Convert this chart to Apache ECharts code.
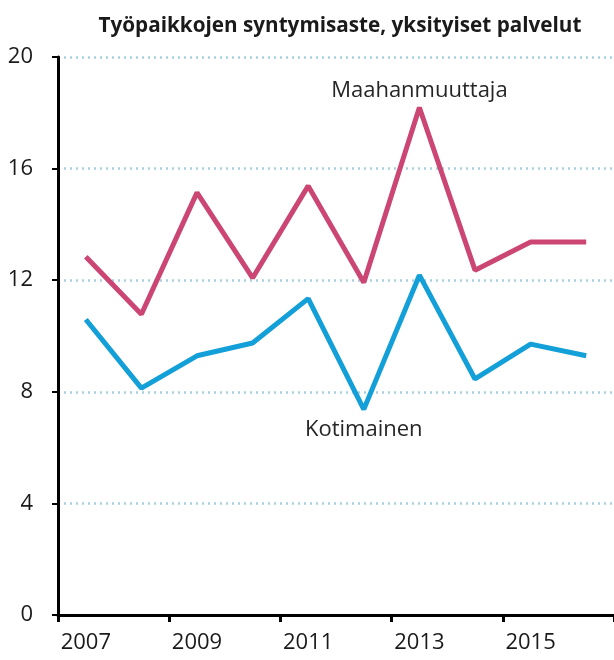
<!DOCTYPE html>
<html><head><meta charset="utf-8">
<script src="https://cdn.jsdelivr.net/npm/echarts@6/dist/echarts.min.js"></script>
<style>html,body{margin:0;padding:0;background:#fff}#c{width:614px;height:660px}</style>
</head><body><div id="c"></div>
<script>
const title = "Työpaikkojen syntymisaste, yksityiset palvelut";
const years = ["2007","2008","2009","2010","2011","2012","2013","2014","2015","2016"];
const maahanmuuttaja = [12.84, 10.78, 15.14, 12.08, 15.38, 11.92, 18.19, 12.36, 13.37, 13.37];
const kotimainen = [10.59, 8.13, 9.29, 9.75, 11.34, 7.37, 12.18, 8.46, 9.71, 9.29];
const yTicks = [0, 4, 8, 12, 16, 20];
const names = ["Maahanmuuttaja", "Kotimainen"];
const labelIdx = [6, 5];

const font = "'Open Sans', 'Noto Sans', sans-serif";
function withLabel(arr, idx, name, pos, dist) {
  return arr.map((v, i) => i === idx ? {
    value: v,
    label: {show: true, position: pos, distance: dist, formatter: name,
      fontFamily: font, fontSize: 22, color: '#262626'}
  } : v);
}
const chart = echarts.init(document.getElementById('c'), null, {renderer: 'canvas'});
chart.setOption({
  animation: false,
  title: {text: title, left: 335, top: 11, textAlign: 'center',
    textStyle: {fontFamily: font, fontWeight: 'bold', fontSize: 20.7, color: '#1a1a1a'}},
  grid: {left: 58, right: 0, top: 57, bottom: 45, containLabel: false},
  xAxis: {
    type: 'category', data: years, boundaryGap: true,
    axisLine: {lineStyle: {color: '#000', width: 3}},
    axisTick: {show: true, length: 7, lineStyle: {color: '#000', width: 3}},
    axisLabel: {interval: 1, margin: 17, fontFamily: font, fontSize: 22, color: '#1a1a1a'},
    splitLine: {show: false}
  },
  yAxis: {
    type: 'value', min: yTicks[0], max: yTicks[yTicks.length-1], interval: 4,
    axisLine: {show: true, lineStyle: {color: '#000', width: 3}},
    axisTick: {show: true, length: 6, lineStyle: {color: '#000', width: 2}},
    axisLabel: {margin: 25, fontFamily: font, fontSize: 22, color: '#1a1a1a'},
    splitLine: {show: true, lineStyle: {color: '#a8d0e0', type: [2, 4], width: 2.5}}
  },
  series: [
    {type: 'line', name: names[0], data: withLabel(maahanmuuttaja, labelIdx[0], names[0], 'top', 6),
      symbol: 'circle', symbolSize: 0.1, showSymbol: true,
      lineStyle: {color: '#cc4673', width: 5}, itemStyle: {color: '#cc4673'}},
    {type: 'line', name: names[1], data: withLabel(kotimainen, labelIdx[1], names[1], 'bottom', 9),
      symbol: 'circle', symbolSize: 0.1, showSymbol: true,
      lineStyle: {color: '#139fd7', width: 5}, itemStyle: {color: '#139fd7'}}
  ]
});
</script></body></html>
